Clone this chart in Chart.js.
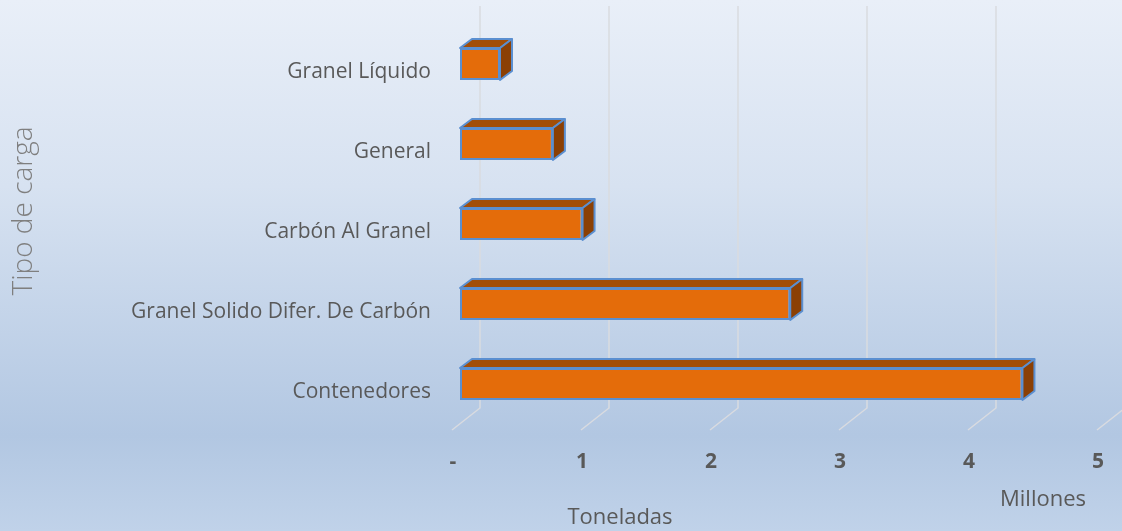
<!DOCTYPE html>
<html>
<head>
<meta charset="utf-8">
<script src="https://cdn.jsdelivr.net/npm/chart.js@4.4.1/dist/chart.umd.min.js"></script>
<style>
  html, body { margin: 0; padding: 0; }
  body {
    width: 1122px; height: 531px; overflow: hidden;
    background: linear-gradient(to bottom, #e9eff8 0%, #d7e2f1 35%, #b2c7e2 82%, #c0d2e9 100%);
  }
</style>
</head>
<body>
<canvas id="cargaChart" width="1122" height="531"></canvas>
<script>
const categorias = ['Granel Líquido', 'General', 'Carbón Al Granel', 'Granel Solido Difer. De Carbón', 'Contenedores'];
const toneladas = [0.31, 0.72, 0.95, 2.56, 4.36]; // millones
const ticksX = [0, 1, 2, 3, 4, 5];

const textColor = '#595959';
const DX = 12, DY = -9; // fondo de las barras

const bar3d = {
    id: 'bar3d',
    beforeDatasetsDraw(chart) {
        const ctx = chart.ctx;
        const xs = chart.scales.x;
        ctx.save();
        ctx.strokeStyle = '#d9dbe0';
        ctx.lineWidth = 1.5;
        ticksX.forEach(v => {
            const fx = xs.getPixelForValue(v) - 8;
            const bx = fx + 28;
            ctx.beginPath();
            ctx.moveTo(bx, 6);
            ctx.lineTo(bx, 408);
            ctx.lineTo(fx, 430);
            ctx.stroke();
        });
        ctx.restore();
    },
    afterDatasetsDraw(chart) {
        const ctx = chart.ctx;
        const meta = chart.getDatasetMeta(0);
        ctx.save();
        ctx.lineWidth = 2;
        ctx.strokeStyle = '#5b8fd0';
        ctx.lineJoin = 'round';
        meta.data.forEach(bar => {
            const p = bar.getProps(['x', 'y', 'base', 'height'], true);
            const top = p.y - p.height / 2, bottom = p.y + p.height / 2;
            // cara superior
            ctx.beginPath();
            ctx.moveTo(p.base, top);
            ctx.lineTo(p.x, top);
            ctx.lineTo(p.x + DX, top + DY);
            ctx.lineTo(p.base + DX, top + DY);
            ctx.closePath();
            ctx.fillStyle = '#a24e08';
            ctx.fill();
            ctx.stroke();
            // cara lateral
            ctx.beginPath();
            ctx.moveTo(p.x, top);
            ctx.lineTo(p.x + DX, top + DY);
            ctx.lineTo(p.x + DX, bottom + DY);
            ctx.lineTo(p.x, bottom);
            ctx.closePath();
            ctx.fillStyle = '#8b4005';
            ctx.fill();
            ctx.stroke();
        });
        ctx.restore();
    },
    afterDraw(chart) {
        const ctx = chart.ctx;
        ctx.save();
        ctx.fillStyle = textColor;
        ctx.textAlign = 'center';
        ctx.textBaseline = 'middle';
        ctx.font = '22px "Open Sans"';
        ctx.fillText('Millones', 1043, 500);
        ctx.fillText('Toneladas', 620, 518);
        ctx.translate(24, 211);
        ctx.rotate(-Math.PI / 2);
        ctx.fillStyle = '#7f7f7f';
        ctx.font = '300 28px "Open Sans"';
        ctx.fillText('Tipo de carga', 0, 0);
        ctx.restore();
    }
};

new Chart(document.getElementById('cargaChart'), {
    type: 'bar',
    data: {
        labels: categorias,
        datasets: [{
            label: 'Toneladas',
            data: toneladas,
            backgroundColor: '#e46c0a',
            borderColor: '#5b8fd0',
            borderWidth: 2,
            borderSkipped: false,
            barPercentage: 0.5,
            categoryPercentage: 0.8
        }]
    },
    options: {
        indexAxis: 'y',
        responsive: false,
        animation: false,
        layout: { padding: { top: 24, right: 17, left: 0, bottom: 0 } },
        plugins: {
            legend: { display: false },
            tooltip: { enabled: false }
        },
        scales: {
            x: {
                min: 0,
                max: 5,
                grid: { display: false, drawTicks: false },
                border: { display: false },
                afterFit: s => { s.height = 107; s.paddingLeft = 0; s.paddingRight = 0; },
                ticks: {
                    stepSize: 1,
                    padding: 25,
                    labelOffset: -7,
                    color: textColor,
                    font: { family: 'Open Sans', size: 21, weight: 'bold' },
                    callback: v => v === 0 ? '-' : v
                }
            },
            y: {
                grid: { display: false, drawTicks: false },
                border: { display: false },
                afterFit: s => { s.width = 460; s.paddingTop = 0; s.paddingBottom = 0; },
                ticks: {
                    padding: 29,
                    labelOffset: 8,
                    color: textColor,
                    font: { family: 'Open Sans', size: 21 }
                }
            }
        }
    },
    plugins: [bar3d]
});
</script>
</body>
</html>
